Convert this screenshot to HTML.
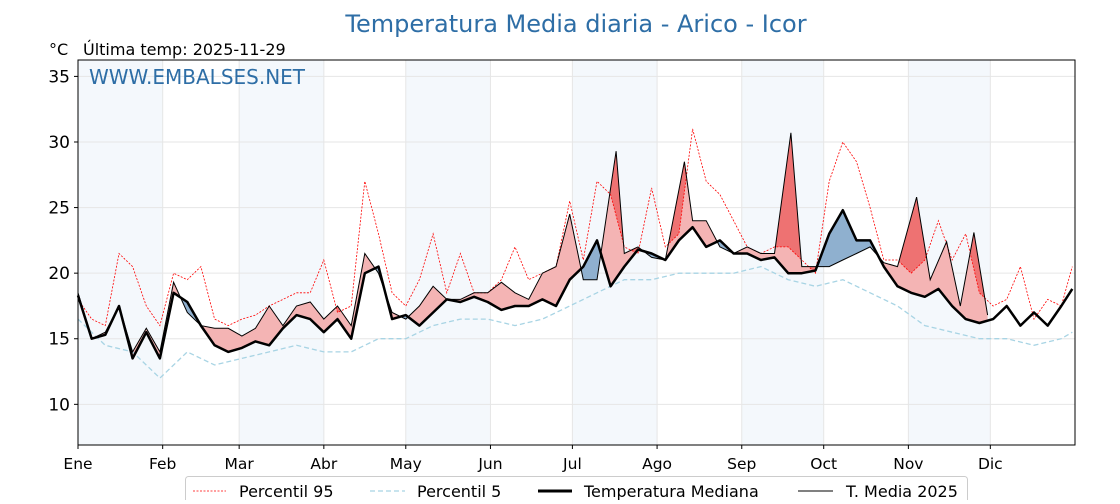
<!DOCTYPE html>
<html><head><meta charset="utf-8"><style>
body{margin:0;background:#fff;width:1120px;height:500px;overflow:hidden;font-family:"DejaVu Sans","Liberation Sans",sans-serif}
svg text{font-family:"DejaVu Sans","Liberation Sans",sans-serif}
</style></head><body>
<svg id="chart" width="1120" height="500" xmlns="http://www.w3.org/2000/svg"></svg>
<script>
const monthLabels=["Ene","Feb","Mar","Abr","May","Jun","Jul","Ago","Sep","Oct","Nov","Dic"];
const monthStarts=[0,31,59,90,120,151,181,212,243,273,304,334];
const yTicks=[10,15,20,25,30,35];
const medDays=[0,5,10,15,20,25,30,35,40,45,50,55,60,65,70,75,80,85,90,95,100,105,110,115,120,125,130,135,140,145,150,155,160,165,170,175,180,185,190,195,200,205,210,215,220,225,230,235,240,245,250,255,260,265,270,275,280,285,290,295,300,305,310,315,320,325,330,335,340,345,350,355,360,364];
const medVals=[18.3,15,15.3,17.5,13.5,15.5,13.5,18.5,17.8,16,14.5,14,14.3,14.8,14.5,15.8,16.8,16.5,15.5,16.5,15,20,20.5,16.5,16.8,16,17,18,17.8,18.2,17.8,17.2,17.5,17.5,18,17.5,19.5,20.5,22.5,19,20.5,21.8,21.5,21,22.5,23.5,22,22.5,21.5,21.5,21,21.2,20,20,20.2,23,24.8,22.5,22.5,20.5,19,18.5,18.2,18.8,17.5,16.5,16.2,16.5,17.5,16,17,16,17.5,18.8];
const curDays=[0,5,10,15,20,25,30,35,40,45,50,55,60,65,70,75,80,85,90,95,100,105,110,115,120,125,130,135,140,145,150,155,160,165,170,175,180,185,190,197,200,205,210,215,222,225,230,235,240,245,250,255,261,265,270,275,280,285,290,295,300,307,312,318,323,328,333];
const curVals=[18.5,15,15.5,17.5,14,15.8,14,19.3,17,16,15.8,15.8,15.2,15.8,17.5,16,17.5,17.8,16.5,17.5,16,21.5,20,17,16.5,17.5,19,18,18,18.5,18.5,19.3,18.5,18,20,20.5,24.5,19.5,19.5,29.3,21.5,22,21.2,21,28.5,24,24,22,21.5,22,21.5,21.5,30.7,20.5,20.5,20.5,21,21.5,22,20.8,20.5,25.8,19.5,22.4,17.5,23.1,16.8];
const p95Days=medDays;
const p95Vals=[18,16.5,16,21.5,20.5,17.5,16,20,19.5,20.5,16.5,16,16.5,16.8,17.5,18,18.5,18.5,21,17,17.5,27,23,18.5,17.5,19.5,23,18.5,21.5,18.5,18.5,19.5,22,19.5,20,20.5,25.5,21,27,26,22,21.5,26.5,22,23,31,27,26,24,22,21.5,22,22,21,20,27,30,28.5,25,21,21,20,21,24,21,23,18.5,17.5,18,20.5,16.5,18,17.5,20.5];
const p5Days=[0,10,20,30,40,50,60,70,80,90,100,110,120,130,140,150,160,170,180,190,200,210,220,230,240,250,260,270,280,290,300,310,320,330,340,350,360,364];
const p5Vals=[16.5,14.5,14,12,14,13,13.5,14,14.5,14,14,15,15,16,16.5,16.5,16,16.5,17.5,18.5,19.5,19.5,20,20,20,20.5,19.5,19,19.5,18.5,17.5,16,15.5,15,15,14.5,15,15.5];

const NS="http://www.w3.org/2000/svg";
const svg=document.getElementById('chart');
const L=78,R=1075,T=60,B=445,YMIN=6.9,YMAX=36.25;
const x=d=>L+d*(R-L)/365;
const y=v=>B-(v-YMIN)*(B-T)/(YMAX-YMIN);
function el(tag,attrs,parent){const e=document.createElementNS(NS,tag);for(const k in attrs)e.setAttribute(k,attrs[k]);(parent||svg).appendChild(e);return e;}
function pts(days,vals){return days.map((d,i)=>x(d).toFixed(1)+','+y(vals[i]).toFixed(1));}

for(let i=0;i<12;i+=2){
 const b=el('rect',{x:x(monthStarts[i]),y:T,width:x(monthStarts[i+1]||365)-x(monthStarts[i]),height:B-T,fill:'#f4f8fc'});
 
 
}
yTicks.forEach(v=>{const g=el('line',{x1:L,x2:R,y1:y(v),y2:y(v),stroke:'#e6e6e6','stroke-width':1});
 
 });
monthStarts.forEach(d=>{const g=el('line',{x1:x(d),x2:x(d),y1:T,y2:B,stroke:'#e6e6e6','stroke-width':1});
 
 });

const defs=el('defs',{});
function clipAbove(id,days,vals){const c=el('clipPath',{id:id},defs);
 el('polygon',{points:[x(days[0])+','+T,...pts(days,vals),x(days[days.length-1])+','+T].join(' ')},c);}
clipAbove('aboveMed',medDays,medVals);
clipAbove('aboveCur',curDays,curVals);
clipAbove('aboveP95',p95Days,p95Vals);
const curLast=curDays[curDays.length-1];
const curToBottom=[x(0)+','+B,...pts(curDays,curVals),x(curLast)+','+B].join(' ');
const mdd=medDays.filter(d=>d<=curLast);
const medToBottom=[x(0)+','+B,...pts(mdd,medVals.slice(0,mdd.length)),x(curLast)+','+y(medVals[mdd.length-1]),x(curLast)+','+B].join(' ');
const fr=el('polygon',{points:curToBottom,fill:'#f4b4b4','clip-path':'url(#aboveMed)'});


const fd=el('polygon',{points:curToBottom,fill:'#ee7272','clip-path':'url(#aboveP95)'});


const fb=el('polygon',{points:medToBottom,fill:'#8fb0cf','clip-path':'url(#aboveCur)'});



const lp95=el('polyline',{points:pts(p95Days,p95Vals).join(' '),fill:'none',stroke:'#f00','stroke-width':0.8,'stroke-dasharray':'2,1.5'});


const lp5=el('polyline',{points:pts(p5Days,p5Vals).join(' '),fill:'none',stroke:'#a8d4e4','stroke-width':1.3,'stroke-dasharray':'5,3'});


const lmed=el('polyline',{points:pts(medDays,medVals).join(' '),fill:'none',stroke:'#000','stroke-width':2.5,'stroke-linejoin':'round'});


const lcur=el('polyline',{points:pts(curDays,curVals).join(' '),fill:'none',stroke:'#000','stroke-width':1});



const frame=el('rect',{x:L,y:T,width:R-L,height:B-T,fill:'none',stroke:'#000','stroke-width':1});



yTicks.forEach(v=>{
 el('line',{x1:L-4,x2:L,y1:y(v),y2:y(v),stroke:'#000'});
 const t=el('text',{x:L-8,y:y(v)+6,'text-anchor':'end','font-size':17,fill:'#000'});t.textContent=v;
 
 
});
monthStarts.forEach((d,i)=>{
 el('line',{x1:x(d),x2:x(d),y1:B,y2:B+4,stroke:'#000'});
 const t=el('text',{x:x(d),y:B+24,'text-anchor':'middle','font-size':15.5,fill:'#000'});t.textContent=monthLabels[i];
 
 
});
</script>
<svg style="position:absolute;left:0;top:0" width="1120" height="500" xmlns="http://www.w3.org/2000/svg">
<text x="576" y="32" text-anchor="middle" font-size="24" fill="#2e6ea6">Temperatura Media diaria - Arico - Icor</text>
<text x="49" y="55" font-size="16" fill="#000">°C</text>
<text x="83" y="55" font-size="16" fill="#000">Última temp: 2025-11-29</text>
<text x="89" y="84" font-size="20" fill="#2e6ea6">WWW.EMBALSES.NET</text>
<g>
<rect x="185.5" y="476.5" width="782" height="30" rx="3" fill="#fff" stroke="#ccc"/>
<line x1="193" x2="226" y1="491" y2="491" stroke="#f00" stroke-width="0.8" stroke-dasharray="2,1.5"/>
<text x="239" y="497" font-size="16">Percentil 95</text>
<line x1="370" x2="405" y1="491" y2="491" stroke="#a8d4e4" stroke-width="1.3" stroke-dasharray="5,3"/>
<text x="417" y="497" font-size="16">Percentil 5</text>
<line x1="538" x2="572" y1="491" y2="491" stroke="#000" stroke-width="3"/>
<text x="584" y="497" font-size="16">Temperatura Mediana</text>
<line x1="798" x2="833" y1="491" y2="491" stroke="#000" stroke-width="1"/>
<text x="846" y="497" font-size="16">T. Media 2025</text>
</g>
</svg>
</body></html>
